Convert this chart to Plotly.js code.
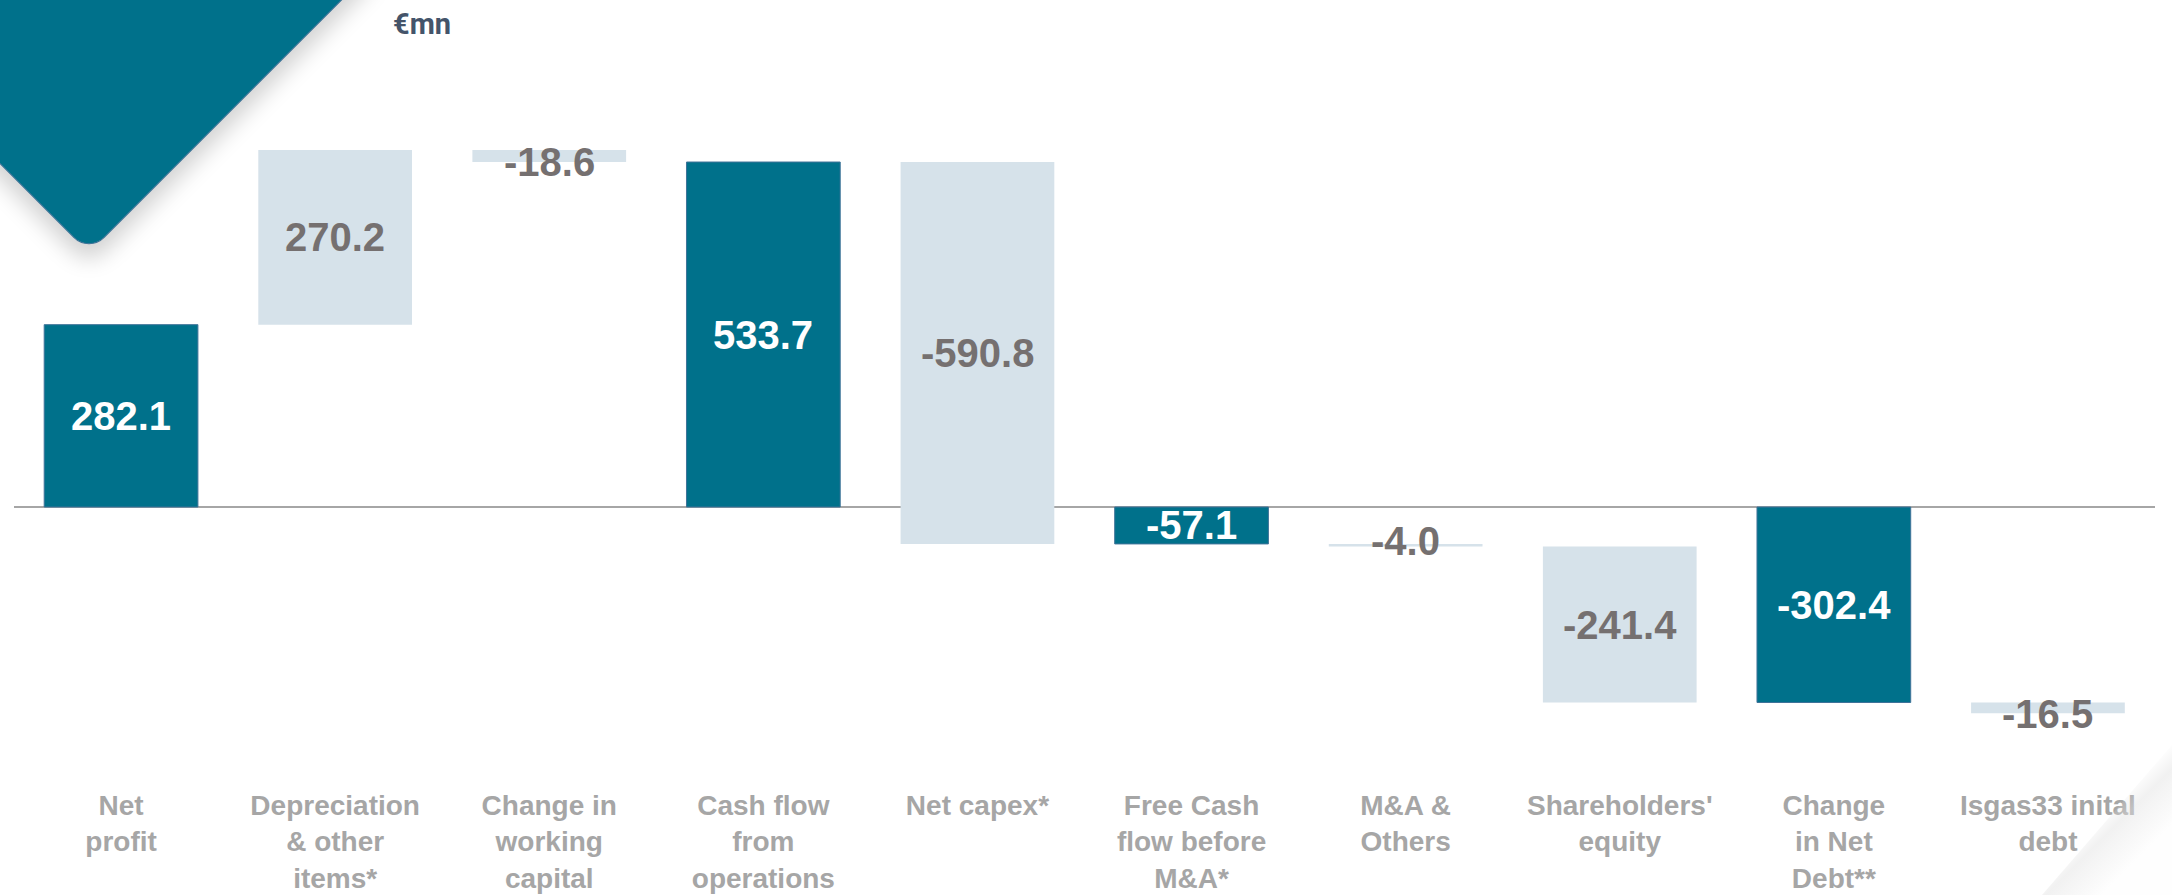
<!DOCTYPE html>
<html>
<head>
<meta charset="utf-8">
<script src="https://cdn.plot.ly/plotly-3.0.1.min.js"></script>
<style>
  html, body { margin: 0; padding: 0; background: #ffffff; }
  #wrap { position: relative; width: 2172px; height: 895px; overflow: hidden; }
  #chart { position: absolute; left: 0; top: 0; width: 2172px; height: 895px; }
  #corner {
    position: absolute; width: 400px; height: 400px;
    left: -112px; top: -232px;
    background: #00718b;
    border: 1px solid #3f7398;
    transform: rotate(45deg);
    border-bottom-right-radius: 22px;
    box-shadow: 10px 10px 22px rgba(0,0,0,0.18);
    pointer-events: none;
  }
  #curl {
    position: absolute; right: 0; bottom: 0; width: 130px; height: 150px;
    background: linear-gradient(135deg, rgba(255,255,255,0) 45%, rgba(225,225,225,0.45) 55%, rgba(250,250,250,0.2) 75%);
    clip-path: polygon(100% 0, 100% 100%, 0 100%);
    pointer-events: none;
  }
</style>
</head>
<body>
<div id="wrap">
  <div id="chart"></div>
  <div id="corner"></div>
  <div id="curl"></div>
</div>
<script>
// ---- data ----
const categories = [
  "Net<br>profit",
  "Depreciation<br>& other<br>items*",
  "Change in<br>working<br>capital",
  "Cash flow<br>from<br>operations",
  "Net capex*",
  "Free Cash<br>flow before<br>M&A*",
  "M&A &<br>Others",
  "Shareholders'<br>equity",
  "Change<br>in Net<br>Debt**",
  "Isgas33 inital<br>debt"
];
const values = [282.1, 270.2, -18.6, 533.7, -590.8, -57.1, -4.0, -241.4, -302.4, -16.5];
const measures = ["absolute", "relative", "relative", "absolute", "relative", "absolute", "relative", "relative", "absolute", "relative"];
const valueLabels = ["282.1", "270.2", "-18.6", "533.7", "-590.8", "-57.1", "-4.0", "-241.4", "-302.4", "-16.5"];
const unitLabel = "€mn";

// ---- style ----
const TEAL = "#00718b";
const LIGHT = "#d6e2ea";
const LABEL_GRAY = "#757070";
const CAT_GRAY = "#a6a6a6";

const xIdx = categories.map((_, i) => i);

// label positions from running totals
let running = 0;
const mids = [];
values.forEach((v, i) => {
  let base, end;
  if (measures[i] === "absolute") { base = 0; end = v; }
  else { base = running; end = running + v; }
  running = end;
  mids.push((base + end) / 2);
});

const W = 2172, H = 895, ML = 14, MR = 17, MT = 50, MB = 115;
const pw = W - ML - MR, ph = H - MT - MB;

function labelShift(v) {
  const a = Math.abs(v);
  if (a < 10) return 4;
  if (a < 20) return -6;
  return 0;
}

const annotations = values.map((v, i) => ({
  x: i, y: mids[i], xref: "x", yref: "y",
  text: valueLabels[i], showarrow: false,
  font: { family: "Liberation Sans, Arial, sans-serif", size: 40,
          color: measures[i] === "absolute" ? "#ffffff" : LABEL_GRAY, weight: 700 },
  xanchor: "center", yanchor: "middle",
  yshift: labelShift(v)
}));
annotations.push({
  x: (422 - ML) / pw, y: 1 - (24 - MT) / ph, xref: "paper", yref: "paper",
  text: "<b>" + unitLabel + "</b>", showarrow: false,
  xanchor: "center", yanchor: "middle",
  font: { family: "Roboto, Liberation Sans, sans-serif", size: 29, color: "#44546a" }
});

const trace = {
  type: "waterfall",
  x: xIdx,
  y: values,
  measure: measures,
  orientation: "v",
  textinfo: "none",
  hoverinfo: "skip",
  connector: { visible: false },
  totals: { marker: { color: TEAL, line: { color: "#3f7398", width: 1 } } },
  increasing: { marker: { color: LIGHT, line: { color: LIGHT, width: 0 } } },
  decreasing: { marker: { color: LIGHT, line: { color: LIGHT, width: 0 } } }
};

const layout = {
  width: W, height: H,
  margin: { l: ML, r: MR, t: MT, b: MB },
  paper_bgcolor: "rgba(0,0,0,0)",
  plot_bgcolor: "rgba(0,0,0,0)",
  showlegend: false,
  waterfallgap: 0.282,
  xaxis: {
    range: [-0.5, 9.5],
    tickmode: "array",
    tickvals: xIdx,
    ticktext: categories,
    showgrid: false, zeroline: false, showline: false, ticks: "",
    tickfont: { family: "Liberation Sans, Arial, sans-serif", size: 28, color: CAT_GRAY, weight: 700 },
    ticklabelstandoff: 6
  },
  yaxis: {
    range: [-422.3, 707.0],
    showgrid: false, showticklabels: false, ticks: "",
    zeroline: true, zerolinecolor: "#a6a6a6", zerolinewidth: 2,
    showline: false
  },
  annotations: annotations
};

Plotly.newPlot("chart", [trace], layout, { displayModeBar: false, staticPlot: true });
</script>
</body>
</html>
